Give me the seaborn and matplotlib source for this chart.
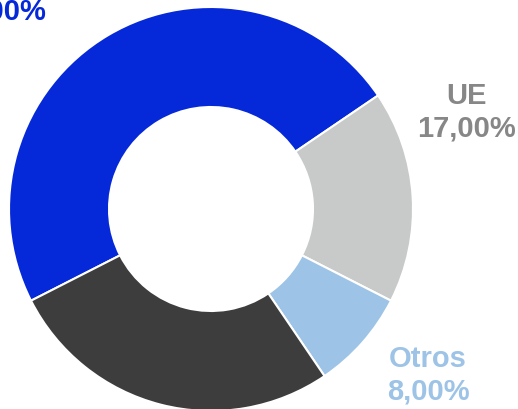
import matplotlib
matplotlib.use("Agg")
import matplotlib.pyplot as plt
import seaborn as sns

sns.set_theme(style="white")
plt.rcParams['font.family'] = ['Liberation Sans', 'DejaVu Sans']

categories = ["", "UE", "Otros", ""]
values = [48, 17, 8, 27]
labels_pct = ["48,00%", "17,00%", "8,00%", ""]
colors = ["#0529D8", "#C8C9C9", "#9DC3E6", "#3D3D3D"]
text_colors = ["#0529D8", "#878787", "#9DC3E6", "#3D3D3D"]

fig = plt.figure(figsize=(5.18, 4.10), dpi=100)
ax = fig.add_axes([0, 0, 1, 1])

cx, cy = 211, 410 - 210
R = 202
ax.pie(values, colors=colors, startangle=207, counterclock=False,
       center=(cx, cy), radius=R,
       wedgeprops=dict(width=100, edgecolor="white", linewidth=1.5))
ax.set_xlim(0, 518)
ax.set_ylim(0, 410)
ax.set_aspect("equal")
ax.axis("off")

ax.text(466, 410 - 112, categories[1] + "\n" + labels_pct[1], ha="center", va="center",
        fontsize=21, fontweight="bold", color=text_colors[1], linespacing=1.2)
ax.text(428, 410 - 375, categories[2] + "\n" + labels_pct[2], ha="center", va="center",
        fontsize=21, fontweight="bold", color=text_colors[2], linespacing=1.2)
ax.text(46, 410 - 12, labels_pct[0], ha="right", va="center", fontsize=21,
        fontweight="bold", color=text_colors[0], clip_on=False)

fig.savefig("out.png", dpi=100)
